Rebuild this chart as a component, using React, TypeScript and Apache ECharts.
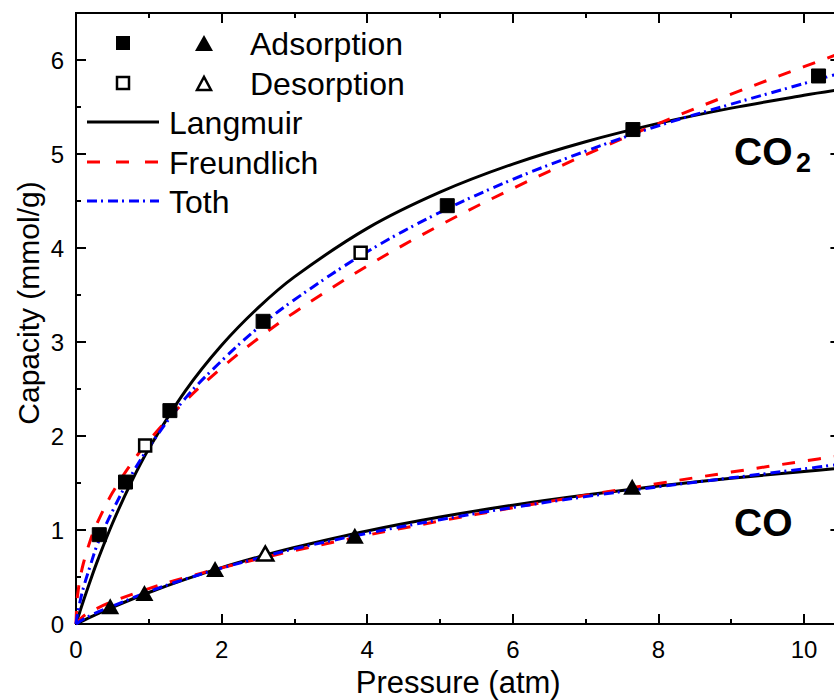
import React, { useEffect, useRef } from "react";
import * as echarts from "echarts";

// ---- measured data points ----
const co2AdsP = [0.32, 0.68, 1.29, 2.57, 5.1, 7.65, 10.2];
const co2AdsQ = [0.95, 1.51, 2.27, 3.22, 4.45, 5.26, 5.83];
const co2DesP = [0.95, 3.91];
const co2DesQ = [1.9, 3.95];
const coAdsP = [0.47, 0.94, 1.91, 3.83, 7.64];
const coAdsQ = [0.19, 0.33, 0.585, 0.94, 1.46];
const coDesP = [2.6];
const coDesQ = [0.75];

// ---- fitted model curves ----
const co2CurveP = [0, 0.01, 0.02, 0.05, 0.1, 0.2, 0.3, 0.5, 0.75, 1, 1.5, 2, 2.5, 3, 4, 5, 6, 7, 8, 9, 10, 10.5];
const co2Langmuir = [0, 0.025, 0.05, 0.123, 0.242, 0.469, 0.682, 1.069, 1.494, 1.864, 2.477, 2.965, 3.363, 3.693, 4.209, 4.594, 4.893, 5.131, 5.326, 5.488, 5.624, 5.685];
const co2Freundlich = [0, 0.211, 0.295, 0.459, 0.641, 0.897, 1.09, 1.395, 1.697, 1.95, 2.372, 2.725, 3.036, 3.315, 3.809, 4.243, 4.633, 4.992, 5.324, 5.636, 5.929, 6.071];
const co2Toth = [0, 0.06, 0.1, 0.22, 0.38, 0.63, 0.86, 1.2, 1.57, 1.88, 2.4, 2.8, 3.15, 3.45, 3.96, 4.38, 4.73, 5.03, 5.3, 5.53, 5.75, 5.86];

const coCurveP = [0, 0.1, 0.25, 0.5, 1, 1.5, 2, 2.5, 3, 4, 5, 6, 7, 8, 9, 10, 10.5];
const coLangmuir = [0, 0.037, 0.091, 0.178, 0.335, 0.475, 0.6, 0.712, 0.814, 0.99, 1.138, 1.264, 1.372, 1.467, 1.55, 1.623, 1.657];
const coFreundlich = [0, 0.082, 0.151, 0.2385, 0.377, 0.494, 0.597, 0.692, 0.781, 0.945, 1.095, 1.236, 1.369, 1.495, 1.616, 1.733, 1.79];
const coToth = [0, 0.05, 0.11, 0.19, 0.345, 0.478, 0.595, 0.7, 0.8, 0.965, 1.11, 1.24, 1.355, 1.46, 1.555, 1.65, 1.7];

const xMin = 0;
const xMax = 10.5;
const yMin = 0;
const yMax = 6.5;

const FONT = "'Liberation Sans', Arial, Helvetica, sans-serif";

const zip = (xs: number[], ys: number[]) => xs.map((x, i) => [x, ys[i]]);

export default function App() {
  const ref = useRef<HTMLDivElement>(null);

  useEffect(() => {
    document.body.style.margin = "0";
    if (!ref.current) return;
    const chart = echarts.init(ref.current, null, { renderer: "svg" });

    const axisLine = { onZero: false, lineStyle: { color: "#000", width: 2 } };
    const mkX = (position: string, interval: number, len: number, labels: boolean) => ({
      type: "value",
      gridIndex: 0,
      position,
      min: xMin,
      max: xMax,
      interval,
      axisLine,
      splitLine: { show: false },
      axisTick: { show: true, inside: true, length: len, lineStyle: { color: "#000", width: 2 } },
      axisLabel: labels
        ? { show: true, fontSize: 24, fontFamily: FONT, color: "#000", margin: 13, showMaxLabel: false }
        : { show: false },
    });
    const mkY = (position: string, interval: number, len: number, labels: boolean) => ({
      type: "value",
      gridIndex: 0,
      position,
      min: yMin,
      max: yMax,
      interval,
      axisLine,
      splitLine: { show: false },
      axisTick: { show: true, inside: true, length: len, lineStyle: { color: "#000", width: 2 } },
      axisLabel: labels
        ? { show: true, fontSize: 24, fontFamily: FONT, color: "#000", margin: 12, showMaxLabel: false }
        : { show: false },
    });

    const x0: any = mkX("bottom", 2, 10, true);
    x0.name = "Pressure (atm)";
    x0.nameLocation = "middle";
    x0.nameGap = 42;
    x0.nameTextStyle = { fontSize: 31, fontFamily: FONT, color: "#000", lineHeight: 32 };

    const line = (data: number[][], color: string, type: any, z: number) => ({
      type: "line",
      data,
      showSymbol: false,
      symbol: "none",
      smooth: 0.35,
      z,
      lineStyle: { color, width: 3, type, cap: "butt" },
    });

    const solid = "solid";
    const dashRed = [13, 13];
    const dashBlue = [10, 4, 2, 5];

    const txt = (text: string, x: number, y: number, size: number, bold = false) => ({
      type: "text",
      x,
      y,
      z: 100,
      style: {
        text,
        fontSize: size,
        fontFamily: FONT,
        fontWeight: bold ? "bold" : "normal",
        fill: "#000",
        align: "left",
        verticalAlign: "middle",
      },
    });

    chart.setOption({
      animation: false,
      backgroundColor: "#fff",
      grid: { left: 76, top: 13, width: 764.4, height: 611, containLabel: false, outerBoundsMode: "none" },
      xAxis: [x0, mkX("bottom", 1, 5, false), mkX("top", 2, 10, false), mkX("top", 1, 5, false)],
      yAxis: [mkY("left", 1, 10, true), mkY("left", 0.5, 5, false), mkY("right", 1, 10, false), mkY("right", 0.5, 5, false)],
      series: [
        line(zip(co2CurveP, co2Langmuir), "#000", solid, 3),
        line(zip(co2CurveP, co2Freundlich), "#ff0000", dashRed, 4),
        line(zip(co2CurveP, co2Toth), "#0000ff", dashBlue, 5),
        line(zip(coCurveP, coLangmuir), "#000", solid, 3),
        line(zip(coCurveP, coFreundlich), "#ff0000", dashRed, 4),
        line(zip(coCurveP, coToth), "#0000ff", dashBlue, 5),
        {
          type: "scatter",
          data: zip(co2AdsP, co2AdsQ),
          symbol: "rect",
          symbolSize: 14,
          z: 10,
          itemStyle: { color: "#000", borderColor: "#000", borderWidth: 1, opacity: 1 },
        },
        {
          type: "scatter",
          data: zip(co2DesP, co2DesQ),
          symbol: "rect",
          symbolSize: 12,
          z: 10,
          itemStyle: { color: "#fff", borderColor: "#000", borderWidth: 2.5, opacity: 1 },
        },
        {
          type: "scatter",
          data: zip(coAdsP, coAdsQ),
          symbol: "triangle",
          symbolSize: [18, 16],
          z: 10,
          itemStyle: { color: "#000", opacity: 1 },
        },
        {
          type: "scatter",
          data: zip(coDesP, coDesQ),
          symbol: "triangle",
          symbolSize: [16, 14],
          z: 10,
          itemStyle: { color: "#fff", borderColor: "#000", borderWidth: 2.5, opacity: 1 },
        },
      ],
      graphic: [
        // y-axis title
        {
          type: "text",
          x: 28,
          y: 303,
          rotation: Math.PI / 2,
          z: 100,
          style: {
            text: "Capacity (mmol/g)",
            fontSize: 30,
            fontFamily: FONT,
            fill: "#000",
            align: "center",
            verticalAlign: "middle",
          },
        },
        // legend markers
        { type: "rect", z: 100, shape: { x: 116, y: 36, width: 14, height: 14 }, style: { fill: "#000" } },
        { type: "polygon", z: 100, shape: { points: [[195, 51], [213, 51], [204, 35]] }, style: { fill: "#000" } },
        txt("Adsorption", 250, 44, 32),
        { type: "rect", z: 100, shape: { x: 117, y: 77, width: 12, height: 12 }, style: { fill: "#fff", stroke: "#000", lineWidth: 2.5 } },
        { type: "polygon", z: 100, shape: { points: [[197, 90], [211, 90], [204, 77]] }, style: { fill: "#fff", stroke: "#000", lineWidth: 2.5 } },
        txt("Desorption", 250, 84, 32),
        { type: "line", z: 100, shape: { x1: 87, y1: 122, x2: 159, y2: 122 }, style: { stroke: "#000", lineWidth: 3 } },
        txt("Langmuir", 169, 123, 32),
        { type: "line", z: 100, shape: { x1: 87, y1: 162, x2: 159, y2: 162 }, style: { stroke: "#ff0000", lineWidth: 3, lineDash: [13, 16] } },
        txt("Freundlich", 169, 163, 32),
        { type: "line", z: 100, shape: { x1: 87, y1: 201, x2: 159, y2: 201 }, style: { stroke: "#0000ff", lineWidth: 3, lineDash: [10, 4, 2, 5] } },
        txt("Toth", 169, 202, 32),
        // gas labels
        txt("CO", 734, 151, 39, true),
        txt("2", 796, 163, 27, true),
        txt("CO", 734, 522, 39, true),
      ],
    });

    return () => chart.dispose();
  }, []);

  return <div ref={ref} style={{ width: 834, height: 700 }} />;
}
